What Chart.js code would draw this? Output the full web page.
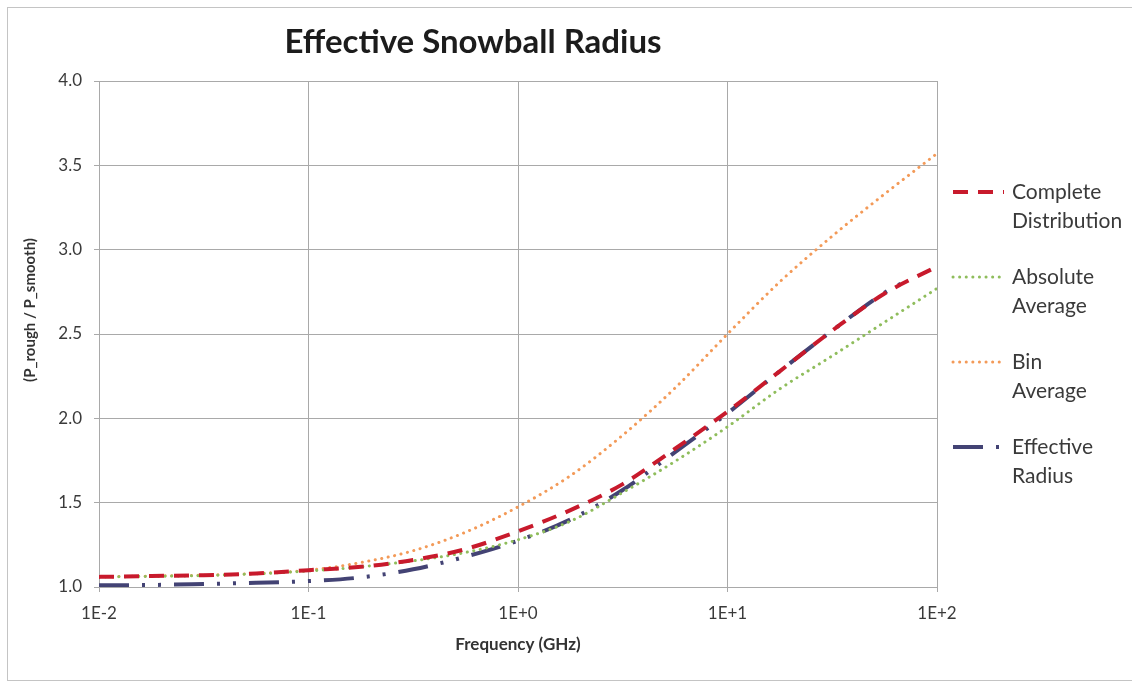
<!DOCTYPE html>
<html>
<head>
<meta charset="utf-8">
<title>Effective Snowball Radius</title>
<script src="https://cdn.jsdelivr.net/npm/chart.js@4.4.0/dist/chart.umd.min.js"></script>
<style>
  html, body { margin: 0; padding: 0; background: #fff; }
  #wrap { position: relative; width: 1132px; height: 684px; overflow: hidden; }
  #frame { position: absolute; left: 7px; top: 7px; width: 1140px; height: 674px; border: 1px solid #c4c4c4; box-sizing: border-box; pointer-events: none; }
  canvas { position: absolute; left: 0; top: 0; }
</style>
</head>
<body>
<div id="wrap">
  <canvas id="chart" width="1132" height="684"></canvas>
  <div id="frame"></div>
</div>
<script>
// titles
const chartTitle = 'Effective Snowball Radius';
const xTitle = 'Frequency (GHz)';
const yTitle = '(P_rough / P_smooth)';

// frequency points (GHz) at quarter decades
const freq = [0.01, 0.0178, 0.0316, 0.0562, 0.1, 0.178, 0.316, 0.562, 1, 1.78, 3.16, 5.62, 10, 17.8, 31.6, 56.2, 100];

const completeDist = [1.06, 1.065, 1.07, 1.08, 1.10, 1.12, 1.16, 1.225, 1.33, 1.456, 1.61, 1.82, 2.04, 2.28, 2.52, 2.74, 2.90];
const absoluteAvg  = [1.06, 1.063, 1.068, 1.078, 1.095, 1.12, 1.155, 1.205, 1.28, 1.39, 1.56, 1.745, 1.95, 2.175, 2.37, 2.57, 2.77];
const binAvg       = [1.06, 1.065, 1.07, 1.08, 1.10, 1.145, 1.215, 1.325, 1.475, 1.66, 1.90, 2.18, 2.50, 2.81, 3.08, 3.33, 3.57];

// effective radius stops a bit short of 100 GHz
const effFreq      = [0.01, 0.0178, 0.0316, 0.0562, 0.1, 0.178, 0.316, 0.562, 1, 1.78, 3.16, 5.62, 10, 17.8, 31.6, 56.2, 70];
const effRadius    = [1.01, 1.012, 1.018, 1.025, 1.035, 1.057, 1.105, 1.18, 1.275, 1.40, 1.575, 1.80, 2.03, 2.28, 2.52, 2.745, 2.81];

const seriesNames = ['Complete Distribution', 'Absolute Average', 'Bin Average', 'Effective Radius'];

const xTicks = [0.01, 0.1, 1, 10, 100];
const xTickLabels = ['1E-2', '1E-1', '1E+0', '1E+1', '1E+2'];
const yTicks = [1.0, 1.5, 2.0, 2.5, 3.0, 3.5, 4.0];

const gridColor = '#a9a9a9';
const textColor = '#3a3a3a';

const pts = (xs, ys) => xs.map((x, i) => ({ x, y: ys[i] }));

// title + rotated y title drawn where the original has them
const textPlugin = {
  id: 'texts',
  afterDraw(chart) {
    const ctx = chart.ctx;
    ctx.save();
    ctx.fillStyle = '#1c1c1c';
    ctx.font = 'bold 33px Lato';
    ctx.textAlign = 'center';
    ctx.textBaseline = 'middle';
    ctx.fillText(chartTitle, 473, 42);

    ctx.translate(30, 310);
    ctx.rotate(-Math.PI / 2);
    ctx.font = 'bold 15px Lato';
    ctx.fillStyle = '#333';
    ctx.fillText(yTitle, 0, 0);
    ctx.restore();
  }
};

// legend at right: line sample + name broken over two lines
const legendPlugin = {
  id: 'sideLegend',
  afterDraw(chart) {
    const ctx = chart.ctx;
    chart.data.datasets.forEach((ds, i) => {
      const y = 192 + i * 85;
      ctx.save();
      ctx.strokeStyle = ds.borderColor;
      ctx.lineWidth = ds.borderWidth;
      ctx.lineCap = ds.borderCapStyle || 'butt';
      ctx.setLineDash(ds.borderDash || []);
      ctx.beginPath();
      ctx.moveTo(953, y);
      ctx.lineTo(1004, y);
      ctx.stroke();
      ctx.setLineDash([]);
      ctx.fillStyle = textColor;
      ctx.font = '21px Lato';
      ctx.textAlign = 'left';
      ctx.textBaseline = 'middle';
      ds.label.split(' ').forEach((w, k) => ctx.fillText(w, 1012, y + k * 29));
      ctx.restore();
    });
  }
};

new Chart(document.getElementById('chart'), {
  type: 'line',
  data: {
    datasets: [
      { label: seriesNames[0], data: pts(freq, completeDist), borderColor: '#c81a2c', borderWidth: 4,
        borderDash: [15, 10] },
      { label: seriesNames[1], data: pts(freq, absoluteAvg), borderColor: '#8fbd5c', borderWidth: 3,
        borderDash: [0.1, 6.5], borderCapStyle: 'round' },
      { label: seriesNames[2], data: pts(freq, binAvg), borderColor: '#f39a58', borderWidth: 3,
        borderDash: [0.1, 6.5], borderCapStyle: 'round' },
      { label: seriesNames[3], data: pts(effFreq, effRadius), borderColor: '#434374', borderWidth: 4,
        borderDash: [30, 13, 3, 13, 3, 13] }
    ]
  },
  options: {
    responsive: false,
    animation: false,
    devicePixelRatio: 1,
    layout: { padding: { top: 81, right: 195, bottom: 0, left: 0 } },
    elements: { point: { radius: 0 }, line: { cubicInterpolationMode: 'monotone', fill: false } },
    plugins: { legend: { display: false }, title: { display: false }, tooltip: { enabled: false } },
    scales: {
      x: {
        type: 'logarithmic', min: 0.01, max: 100,
        afterBuildTicks: s => { s.ticks = xTicks.map(v => ({ value: v })); },
        afterFit: s => { s.height = 97; },
        ticks: { callback: (v, i) => xTickLabels[i], autoSkip: false, maxRotation: 0,
          font: { family: 'Lato', size: 17 }, color: textColor, padding: 11 },
        grid: { color: gridColor, lineWidth: 1, tickLength: 5 },
        border: { color: gridColor },
        title: { display: true, text: xTitle, color: '#333',
          font: { family: 'Lato', size: 17, weight: 'bold' }, padding: { top: 0, bottom: 29 } }
      },
      y: {
        min: 1, max: 4,
        afterBuildTicks: s => { s.ticks = yTicks.map(v => ({ value: v })); },
        afterFit: s => { s.width = 99; },
        ticks: { callback: v => Number(v).toFixed(1), font: { family: 'Lato', size: 17 }, color: textColor, padding: 12 },
        grid: { color: gridColor, lineWidth: 1, tickLength: 5 },
        border: { color: gridColor }
      }
    }
  },
  plugins: [textPlugin, legendPlugin]
});
</script>
</body>
</html>
